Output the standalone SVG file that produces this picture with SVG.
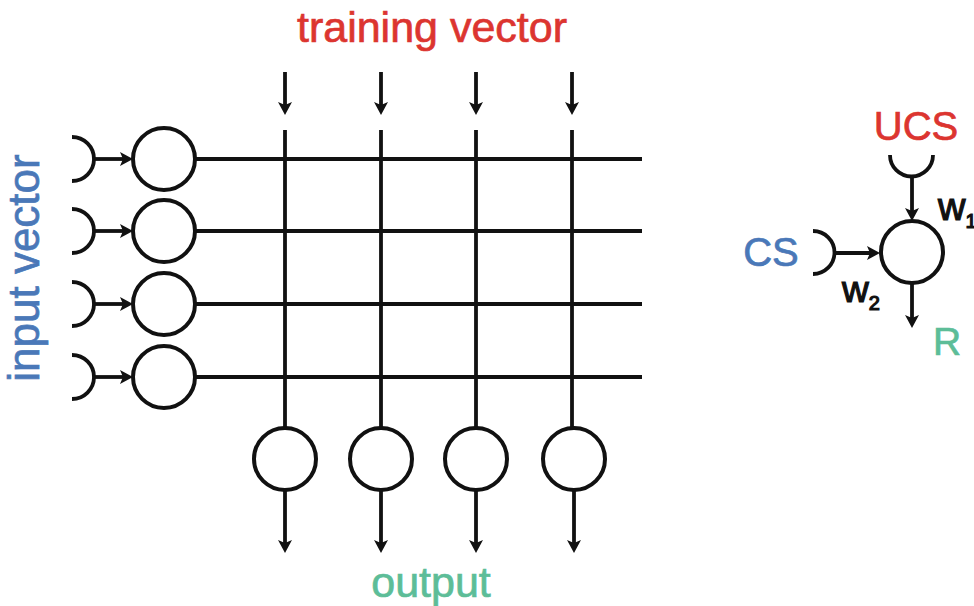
<svg xmlns="http://www.w3.org/2000/svg" width="974" height="606" viewBox="0 0 974 606">
<style>
.ln{stroke:#111;stroke-width:3.8;fill:none}
.nd{stroke:#111;stroke-width:4;fill:#fff}
.syn{stroke:#111;stroke-width:3.8;fill:none}
.arr{stroke:#111;stroke-width:3.8;fill:none;marker-end:url(#ah)}
.t{font-family:"Liberation Sans",Arial,sans-serif;stroke-width:0.7}
.red{fill:#dc3530;stroke:#dc3530}
.blue{fill:#4a78b8;stroke:#4a78b8}
.green{fill:#5dbd98;stroke:#5dbd98}
.blk{fill:#111;stroke:#111;stroke-width:1.2}
</style>
<defs>
<marker id="ah" markerUnits="userSpaceOnUse" markerWidth="16" markerHeight="16" viewBox="0 0 16 16" refX="5" refY="7" orient="auto">
<path d="M0,0 L13,7 L0,14 L3,7 z" fill="#111"/>
</marker>
</defs>
<rect width="974" height="606" fill="#fff"/>
<text class="t red" x="432" y="42" font-size="43" text-anchor="middle">training vector</text>
<text class="t blue" font-size="44" text-anchor="middle" transform="translate(39,268) rotate(-90)">input vector</text>
<text class="t green" x="431" y="597" font-size="43" text-anchor="middle">output</text>
<g id="connectors">
<line class="arr" x1="285" y1="72" x2="285" y2="107"/>
<line class="arr" x1="381" y1="72" x2="381" y2="107"/>
<line class="arr" x1="476" y1="72" x2="476" y2="107"/>
<line class="arr" x1="572" y1="72" x2="572" y2="107"/>
<line class="ln" x1="285" y1="130" x2="285" y2="428"/>
<line class="ln" x1="381" y1="130" x2="381" y2="428"/>
<line class="ln" x1="476" y1="130" x2="476" y2="428"/>
<line class="ln" x1="572" y1="130" x2="572" y2="428"/>
<line class="ln" x1="195" y1="159" x2="642" y2="159"/>
<line class="ln" x1="195" y1="231" x2="642" y2="231"/>
<line class="ln" x1="195" y1="304" x2="642" y2="304"/>
<line class="ln" x1="195" y1="377" x2="642" y2="377"/>
<line class="arr" x1="285" y1="490" x2="285" y2="545"/>
<line class="arr" x1="381" y1="490" x2="381" y2="545"/>
<line class="arr" x1="476" y1="490" x2="476" y2="545"/>
<line class="arr" x1="574" y1="490" x2="574" y2="545"/>
<path class="syn" d="M72,137 A22,22 0 0 1 72,181"/>
<path class="syn" d="M72,209 A22,22 0 0 1 72,253"/>
<path class="syn" d="M72,282 A22,22 0 0 1 72,326"/>
<path class="syn" d="M72,355 A22,22 0 0 1 72,399"/>
<line class="arr" x1="94" y1="159" x2="125" y2="159"/>
<line class="arr" x1="94" y1="231" x2="125" y2="231"/>
<line class="arr" x1="94" y1="304" x2="125" y2="304"/>
<line class="arr" x1="94" y1="377" x2="125" y2="377"/>
<path class="syn" d="M890,155 A21.5,21.5 0 0 0 933,155"/>
<line class="arr" x1="912" y1="176" x2="912" y2="213"/>
<path class="syn" d="M813,231 A21.5,21.5 0 0 1 813,274"/>
<line class="arr" x1="834" y1="253" x2="872" y2="253"/>
<line class="arr" x1="912" y1="283" x2="912" y2="320"/>
</g>
<g id="input-nodes">
<circle id="in1" class="nd" cx="164" cy="159" r="31"/>
<circle id="in2" class="nd" cx="164" cy="231" r="31"/>
<circle id="in3" class="nd" cx="164" cy="304" r="31"/>
<circle id="in4" class="nd" cx="164" cy="377" r="31"/>
</g>
<g id="output-nodes">
<circle id="out1" class="nd" cx="285" cy="459" r="31"/>
<circle id="out2" class="nd" cx="381" cy="459" r="31"/>
<circle id="out3" class="nd" cx="476" cy="459" r="31"/>
<circle id="out4" class="nd" cx="574" cy="459" r="31"/>
</g>
<g id="neuron">
<circle class="nd" cx="912" cy="252" r="31"/>
</g>
<g id="labels">
<text class="t red" x="916" y="140" font-size="40" text-anchor="middle">UCS</text>
<text class="t blue" x="771" y="266" font-size="40" text-anchor="middle">CS</text>
<text class="t green" x="933" y="355" font-size="39">R</text>
<text class="t blk" x="938" y="220" font-size="38">w<tspan font-size="20" dy="8">1</tspan></text>
<text class="t blk" x="842" y="302" font-size="37">w<tspan font-size="20" dy="8">2</tspan></text>
</g>
</svg>
